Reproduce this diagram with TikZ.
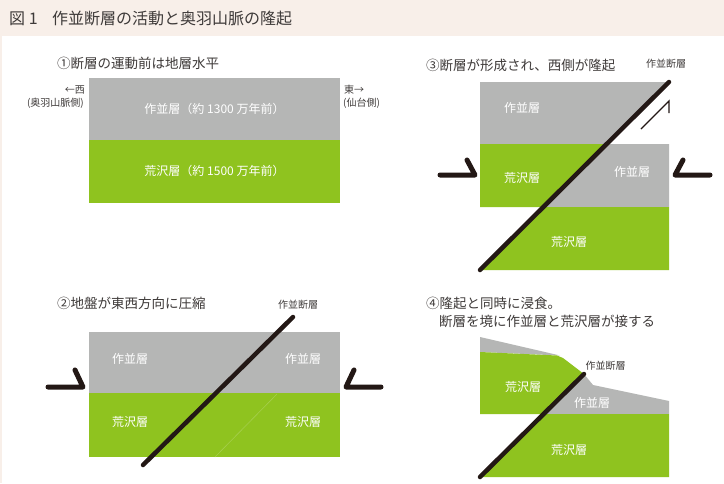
\documentclass[tikz,border=0pt]{standalone}
\usepackage{fontspec}
\setmainfont{Noto Sans CJK JP}
\definecolor{bandbg}{HTML}{F8EFE9}
\definecolor{layergray}{HTML}{B5B6B5}
\definecolor{layergreen}{HTML}{8FC31F}
\definecolor{faultink}{HTML}{231815}
\definecolor{inkgray}{HTML}{3E3A39}
\tikzset{
  heading/.style={inner sep=0pt, anchor=west, text=inkgray, font=\fontsize{13.5}{15}\selectfont},
  layerlabel/.style={inner sep=0pt, text=white, font=\fontsize{12}{14}\selectfont},
  faultlabel/.style={inner sep=0pt, text=inkgray, font=\fontsize{10}{12}\selectfont},
  sidelabel/.style={inner sep=0pt, text=inkgray, font=\fontsize{10}{12}\selectfont},
  faultline/.style={draw=faultink, line width=4.5pt, line cap=round},
  pushmark/.style={draw=faultink, line width=5pt, line cap=round, line join=round},
  slipmark/.style={draw=faultink, line width=1.4pt, line join=miter},
}
\begin{document}
\begin{tikzpicture}[x=1pt, y=-1pt]
\useasboundingbox (0,0) rectangle (724,483);
\fill[white] (0,0) rectangle (724,483);
% title band
\fill[bandbg] (0,0) rectangle (724,36);
\fill[bandbg] (0,0) rectangle (2,483);
\node[inner sep=0pt, anchor=west, text=inkgray, font=\fontsize{16}{18}\selectfont] (title) at (9,18) {図 1\hspace{0.9em}作並断層の活動と奥羽山脈の隆起};

% ---- panel 1: layers before faulting
\node[heading] (h1) at (57,63) {①断層の運動前は地層水平};
\fill[layergray] (89,78) rectangle (340,140);
\fill[layergreen] (89,140) rectangle (340,203);
\node[layerlabel] (p1a) at (214.5,109) {作並層（約 1300 万年前）};
\node[layerlabel] (p1b) at (214.5,171) {荒沢層（約 1500 万年前）};
\node[sidelabel, anchor=east] (west) at (85,90) {←西};
\node[sidelabel, anchor=east] (westsub) at (84,103) {(奥羽山脈側)};
\node[sidelabel, anchor=west] (east) at (344,90) {東→};
\node[sidelabel, anchor=west] (eastsub) at (343,103) {(仙台側)};

% ---- panel 2: east-west compression
\node[heading] (h2) at (57,303) {②地盤が東西方向に圧縮};
\fill[layergray] (89,332) rectangle (340,393);
\fill[layergreen] (89,393) rectangle (340,457);
\draw[layergreen!80!white, line width=0.6pt] (215,457) -- (277,394);
\coordinate (f2a) at (143,465);
\coordinate (f2b) at (293,317);
\draw[faultline] (f2a) -- (f2b);
\node[faultlabel] (fl2) at (298,305) {作並断層};
\node[layerlabel] (p2a) at (130,359) {作並層};
\node[layerlabel] (p2b) at (130,422) {荒沢層};
\node[layerlabel] (p2c) at (303,359) {作並層};
\node[layerlabel] (p2d) at (303,422) {荒沢層};
\coordinate (l2a) at (48,387); \coordinate (l2b) at (83,387); \coordinate (l2c) at (75,370);
\draw[pushmark] (l2a) -- (l2b) -- (l2c);
\coordinate (r2a) at (381,387); \coordinate (r2b) at (346,387); \coordinate (r2c) at (354,370);
\draw[pushmark] (r2a) -- (r2b) -- (r2c);

% ---- panel 3: fault forms, west side rises
\node[heading] (h3) at (426,65) {③断層が形成され、西側が隆起};
\fill[layergray] (480,82) -- (669,82) -- (606.7,144) -- (480,144) -- cycle;
\fill[layergreen] (480,144) -- (606.7,144) -- (543.3,207) -- (480,207) -- cycle;
\fill[layergray] (606.7,144) -- (669,144) -- (669,207) -- (543.3,207) -- cycle;
\fill[layergreen] (543.3,207) -- (669,207) -- (669,270) -- (480,270) -- cycle;
\coordinate (f3a) at (480,270);
\coordinate (f3b) at (669,82);
\draw[faultline] (f3a) -- (f3b);
\node[faultlabel] (fl3) at (666,64) {作並断層};
\node[layerlabel] (p3a) at (522,108) {作並層};
\node[layerlabel] (p3b) at (522,178) {荒沢層};
\node[layerlabel] (p3c) at (632,172) {作並層};
\node[layerlabel] (p3d) at (569,242) {荒沢層};
\coordinate (l3a) at (440,175); \coordinate (l3b) at (475,175); \coordinate (l3c) at (467,160);
\draw[pushmark] (l3a) -- (l3b) -- (l3c);
\coordinate (r3a) at (710,175); \coordinate (r3b) at (675,175); \coordinate (r3c) at (683,160);
\draw[pushmark] (r3a) -- (r3b) -- (r3c);
\coordinate (s3a) at (641,129); \coordinate (s3b) at (669,101); \coordinate (s3c) at (669,113);
\draw[slipmark] (s3a) -- (s3b) -- (s3c);

% ---- panel 4: uplift and erosion
\node[heading] (h4a) at (426,303) {④隆起と同時に浸食。};
\node[heading] (h4b) at (439,321) {断層を境に作並層と荒沢層が接する};
\fill[layergray] (480,337) -- (560,355.5) -- (480,352) -- cycle;
\fill[layergreen] (480,352) -- (557,355.5) -- (563,358) -- (584,374) -- (543.6,414) -- (480,414) -- cycle;
\fill[layergray] (584,374) -- (593,385) -- (669,401) -- (669,414) -- (543.6,414) -- cycle;
\fill[layergreen] (543.6,414) -- (669,414) -- (669,477) -- (480,477) -- cycle;
\coordinate (f4a) at (480,477);
\coordinate (f4b) at (584,374);
\draw[faultline] (f4a) -- (f4b);
\node[faultlabel] (fl4) at (605.5,366) {作並断層};
\node[layerlabel] (p4a) at (523,387) {荒沢層};
\node[layerlabel] (p4b) at (592,403) {作並層};
\node[layerlabel] (p4c) at (569,450) {荒沢層};
\end{tikzpicture}
\end{document}
